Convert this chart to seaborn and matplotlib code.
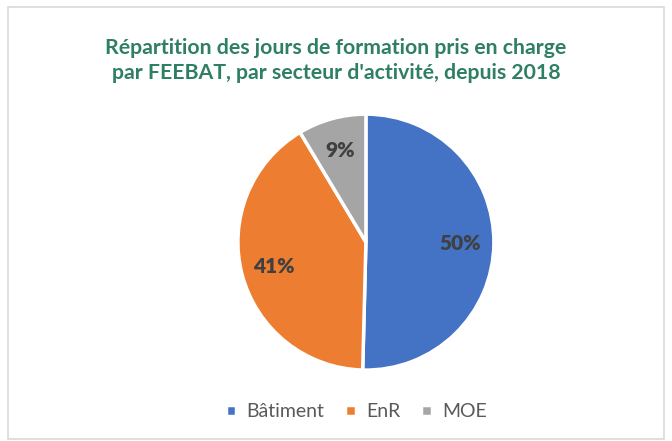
import matplotlib
matplotlib.use('Agg')
import matplotlib.pyplot as plt
import seaborn as sns
from matplotlib.patches import Rectangle

# --------------data--------------
secteurs = ['Bâtiment', 'EnR', 'MOE']
parts = [50.4, 41.0, 8.6]
couleurs = ['#4472C4', '#ED7D31', '#A5A5A5']

sns.set_theme(style='white')
plt.rcParams['font.family'] = ['Lato', 'DejaVu Sans']

fig = plt.figure(figsize=(6.72, 4.41), dpi=100)
ax = fig.add_axes([0.350, 0.155, 0.389, 0.592])

palette = sns.color_palette(couleurs)
wedges, texts, autotexts = ax.pie(
    parts, colors=palette, startangle=90, counterclock=False,
    autopct='%.0f%%', pctdistance=0.74,
    wedgeprops={'edgecolor': 'white', 'linewidth': 2.5},
    textprops={'fontsize': 15, 'fontweight': 'heavy', 'color': '#404040'})
ax.set_aspect('equal')
ax.set_xlim(-1.02, 1.02)
ax.set_ylim(-1.02, 1.02)

fig.text(0.5, 0.862, "Répartition des jours de formation pris en charge\npar FEEBAT, par secteur d'activité, depuis 2018",
         ha='center', va='center', fontsize=15.3, fontweight='bold', color='#2E7F63',
         linespacing=1.3)

leg = fig.legend(wedges, secteurs, loc='center', bbox_to_anchor=(0.53, 0.066), ncol=3,
                 frameon=False, fontsize=14, handlelength=0.55, handleheight=0.55,
                 handletextpad=0.5, columnspacing=1.1)
for t in leg.get_texts():
    t.set_color('#595959')

# cadre du graphique
fig.patches.append(Rectangle((0.012, 0.004), 0.976, 0.98, transform=fig.transFigure,
                             fill=False, edgecolor='#D9D9D9', linewidth=1.2))

fig.savefig('out.png', dpi=100, facecolor='white')
